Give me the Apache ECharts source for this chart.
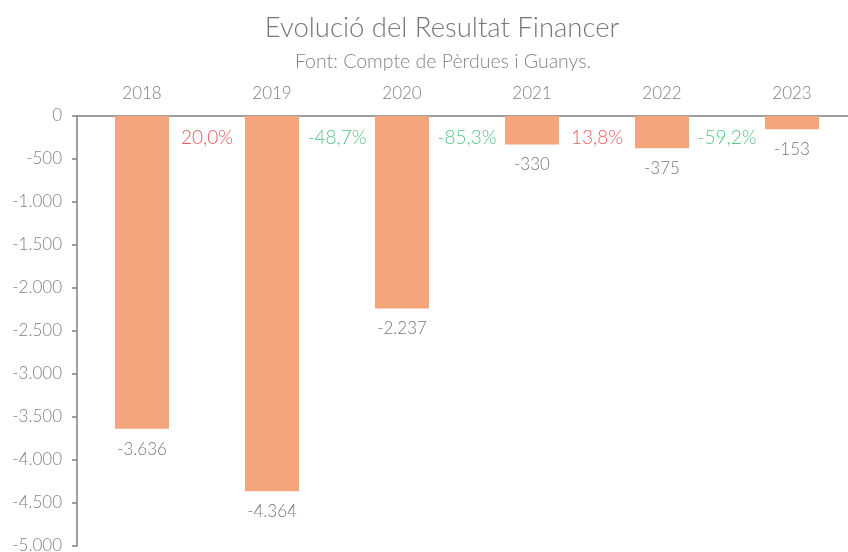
<!DOCTYPE html>
<html>
<head>
<meta charset="utf-8">
<script src="https://cdn.jsdelivr.net/npm/echarts@6/dist/echarts.min.js"></script>
<style>
  html, body { margin: 0; padding: 0; background: #fff; }
  #chart { width: 848px; height: 552px; }
</style>
</head>
<body>
<div id="chart"></div>
<script>
const years = ["2018", "2019", "2020", "2021", "2022", "2023"];
const resultat = [-3636, -4364, -2237, -330, -375, -153];
// variació interanual (entre barres)
const variacio = [20.0, -48.7, -85.3, 13.8, -59.2];
const yTicks = { min: -5000, max: 0, interval: 500 };

const font = "Lato";
const grey = "#808080";

const fmtNum = (v) => {
  const s = Math.abs(Math.round(v)).toString().replace(/\B(?=(\d{3})+(?!\d))/g, ".");
  return (v < 0 ? "-" : "") + s;
};
const fmtPct = (v) => v.toFixed(1).replace(".", ",") + "%";

const chart = echarts.init(document.getElementById("chart"));

const option = {
  animation: false,
  title: [
    {
      text: "Evolució del Resultat Financer",
      left: 437,
      top: 9,
      textAlign: "center",
      textStyle: { fontFamily: font, fontWeight: 300, fontSize: 27.5, color: "#777777" }
    },
    {
      text: "Font: Compte de Pèrdues i Guanys.",
      left: 438,
      top: 47,
      textAlign: "center",
      textStyle: { fontFamily: font, fontWeight: 300, fontSize: 19.5, color: "#858585" }
    }
  ],
  grid: { left: 77, width: 780, top: 116, bottom: 6, containLabel: false, outerBoundsMode: "none" },
  xAxis: [
    {
      type: "category",
      position: "top",
      data: years,
      axisLine: { lineStyle: { color: grey, width: 1.5 } },
      axisTick: { inside: true, length: 5, lineStyle: { color: grey, width: 1.5 } },
      axisLabel: { fontFamily: font, fontWeight: 300, fontSize: 17, color: grey, margin: 14 }
    },
    { type: "value", min: 0, max: 6, show: false }
  ],
  yAxis: {
    type: "value",
    min: yTicks.min,
    max: yTicks.max,
    interval: yTicks.interval,
    splitLine: { show: false },
    axisLine: { show: true, lineStyle: { color: grey, width: 1.5 } },
    axisTick: { show: true, length: 5, lineStyle: { color: grey, width: 1.5 } },
    axisLabel: {
      fontFamily: font, fontWeight: 300, fontSize: 17, color: grey, margin: 15,
      formatter: fmtNum
    }
  },
  series: [
    {
      type: "bar",
      data: resultat,
      barWidth: 54,
      itemStyle: { color: "#F4A57B" },
      label: {
        show: true,
        position: "bottom",
        distance: 12,
        fontFamily: font, fontWeight: 300, fontSize: 17, color: "#777777",
        formatter: (p) => fmtNum(p.value)
      }
    },
    {
      type: "scatter",
      xAxisIndex: 1,
      symbolSize: 0,
      clip: false,
      data: variacio.map((v, i) => ({
        value: [i + 1, 0],
        label: { color: v > 0 ? "#E62E36" : "#27B865" }
      })),
      label: {
        show: true,
        position: "bottom",
        distance: 12,
        fontFamily: font, fontWeight: 300, fontSize: 19,
        formatter: (p) => fmtPct(variacio[p.dataIndex])
      }
    }
  ]
};

chart.setOption(option);
</script>
</body>
</html>
